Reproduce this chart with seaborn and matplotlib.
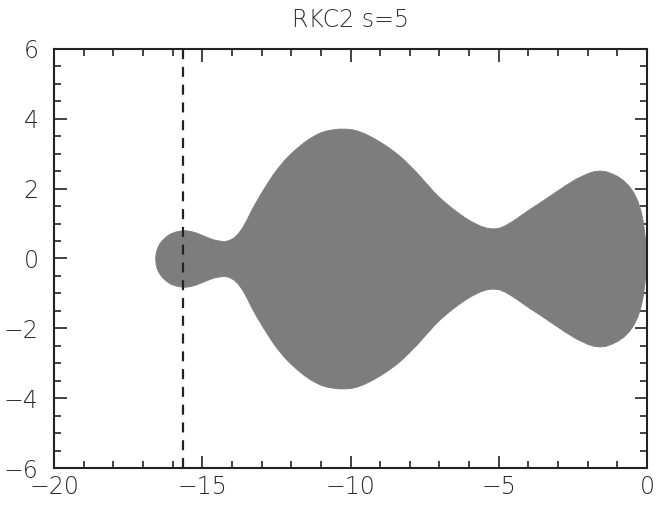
import matplotlib
matplotlib.use("Agg")
import matplotlib.pyplot as plt
from matplotlib.ticker import MultipleLocator
import seaborn as sns
import numpy as np

# Upper half of the stability region boundary (region is symmetric about Im = 0)
re_z = [-16.59, -16.57, -16.52, -16.45, -16.35, -16.22, -16.08, -15.92, -15.75,
        -15.58, -15.4, -15.2, -15.0, -14.8, -14.6, -14.4, -14.25, -14.1, -13.95,
        -13.8, -13.65, -13.5, -13.35, -13.2, -13.0, -12.8, -12.6, -12.4, -12.2,
        -12.0, -11.8, -11.6, -11.4, -11.2, -11.0, -10.8, -10.6, -10.4, -10.2,
        -10.0, -9.8, -9.6, -9.4, -9.2, -9.0, -8.8, -8.6, -8.4, -8.2, -8.0,
        -7.8, -7.6, -7.4, -7.2, -7.0, -6.8, -6.6, -6.4, -6.2, -6.0, -5.8,
        -5.6, -5.4, -5.2, -5.0, -4.8, -4.6, -4.4, -4.2, -4.0, -3.6, -3.2,
        -2.8, -2.4, -2.0, -1.8, -1.6, -1.4, -1.2, -1.0, -0.8, -0.6, -0.45,
        -0.32, -0.22, -0.15, -0.1, -0.06, -0.02, 0.0]
im_z = [0.0, 0.18, 0.32, 0.43, 0.54, 0.64, 0.72, 0.77, 0.8,
        0.81, 0.79, 0.74, 0.67, 0.6, 0.54, 0.51, 0.5, 0.53, 0.6,
        0.72, 0.9, 1.13, 1.39, 1.62, 1.91, 2.18, 2.44, 2.66, 2.86,
        3.03, 3.18, 3.32, 3.44, 3.54, 3.62, 3.67, 3.7, 3.72, 3.72,
        3.71, 3.67, 3.61, 3.53, 3.44, 3.34, 3.23, 3.11, 2.98, 2.83, 2.66,
        2.49, 2.3, 2.11, 1.92, 1.75, 1.6, 1.46, 1.33, 1.21, 1.1, 1.01,
        0.93, 0.88, 0.86, 0.88, 0.95, 1.05, 1.16, 1.28, 1.4, 1.62, 1.85,
        2.08, 2.29, 2.45, 2.5, 2.52, 2.5, 2.44, 2.36, 2.24, 2.07, 1.88,
        1.65, 1.38, 1.1, 0.8, 0.5, 0.22, 0.0]

# Real-axis stability bound of the scheme
beta_line = -15.65

x_ticks = [-20, -15, -10, -5, 0]
y_ticks = [-6, -4, -2, 0, 2, 4, 6]
title = "RKC2 s=5"


def fmt(v):
    return str(v).replace("-", "\u2212")


sns.set_theme(style="white")
plt.rcParams["font.family"] = ["DejaVu Sans"]

fig = plt.figure(figsize=(6.58, 5.07), dpi=100)
ax = fig.add_axes([0.0821, 0.0769, 0.9012, 0.8265])

x = np.array(re_z)
y = np.array(im_z)
ax.fill_between(x, -y, y, color="#7d7d7d", linewidth=0.6, edgecolor="#7d7d7d", zorder=1)
ax.axvline(beta_line, color="#222222", linestyle=(0, (4.5, 3.5)), linewidth=1.6, zorder=2)

ax.set_xlim(-20, 0)
ax.set_ylim(-6, 6)
ax.set_xticks(x_ticks)
ax.set_yticks(y_ticks)
ax.set_xticklabels([fmt(t) for t in x_ticks])
ax.set_yticklabels([fmt(t) for t in y_ticks])
ax.xaxis.set_minor_locator(MultipleLocator(1))
ax.yaxis.set_minor_locator(MultipleLocator(0.5))

ax.tick_params(which="both", direction="in", top=True, right=True, bottom=True, left=True,
               color="#222222", width=1.2)
ax.tick_params(which="major", length=9, labelsize=17, labelcolor="#2a2a2a")
ax.tick_params(axis="x", which="major", pad=5)
ax.tick_params(axis="y", which="major", pad=11)
ax.tick_params(which="minor", length=5)
for s in ax.spines.values():
    s.set_visible(True)
    s.set_color("#222222")
    s.set_linewidth(1.5)

for lab in ax.get_xticklabels() + ax.get_yticklabels():
    lab.set_fontweight("light")

ax.set_title(title, fontsize=17, color="#333333", pad=16, fontweight="light")

fig.savefig("out.png", dpi=100, facecolor="white")
